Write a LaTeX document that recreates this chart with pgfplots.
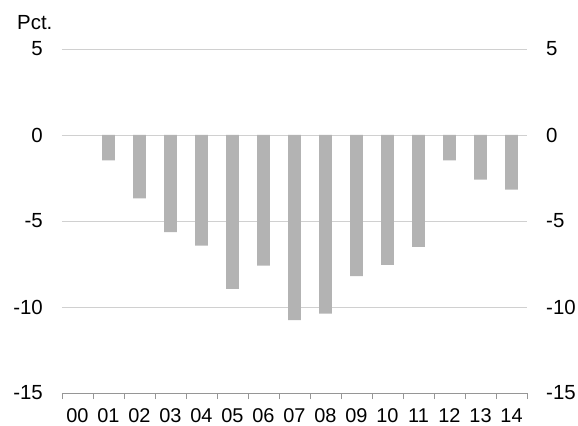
\documentclass[border=0pt]{standalone}
\usepackage{pgfplots}
\pgfplotsset{compat=1.18}
\usepackage{fontspec}
\setmainfont{Liberation Sans}
\definecolor{barc}{RGB}{179,179,179}
\definecolor{gridc}{RGB}{208,208,208}
\definecolor{axc}{RGB}{150,150,150}
\begin{document}
\begin{tikzpicture}
\path[use as bounding box] (-62bp,-33bp) rectangle (516bp,393bp);
\pgfplotsset{common/.style={
  scale only axis, width=465bp, height=344bp, at={(0,0)}, anchor=south west,
  xmin=-0.5, xmax=14.5, ymin=-15, ymax=5, ytick={-15,-10,...,5},
  /pgf/number format/assume math mode=true,
  tick label style={font=\fontsize{20.5}{22}\selectfont},
}}
\begin{axis}[common,
  axis x line*=bottom,
  x axis line style={draw=axc, line width=0.8bp, -},
  y axis line style={draw=none},
  ytick style={draw=none},
  ymajorgrids, grid style={gridc, line width=0.8bp},
  yticklabel style={anchor=east, inner sep=0pt, xshift=-19bp},
  xtick={0,...,14},
  xticklabels={00\hspace{5bp},01\hspace{9bp},02,03,04,05,06,07,08,09,10,11,12,13,14},
  major x tick style={draw=none},
  minor xtick={-0.5,0.5,...,14.5},
  xtick align=outside, major tick length=0pt, minor tick length=6bp,
  minor x tick style={draw=axc, line width=0.8bp},
  xticklabel style={anchor=north, inner sep=0pt, yshift=-15.5bp, font=\fontsize{20}{22}\selectfont},
]
\addplot[ybar, bar width=12.7bp, fill=barc, draw=none] coordinates {
(1,-1.47) (2,-3.68) (3,-5.65) (4,-6.43) (5,-8.94) (6,-7.59) (7,-10.76)
(8,-10.38) (9,-8.21) (10,-7.55) (11,-6.5) (12,-1.47) (13,-2.6) (14,-3.17)
};
\end{axis}
\begin{axis}[common,
  axis x line=none, axis y line*=right,
  y axis line style={draw=none},
  ytick style={draw=none},
  yticklabel style={anchor=west, inner sep=0pt, xshift=19bp},
]
\addplot[draw=none] coordinates {(0,0)};
\end{axis}
\node[anchor=west, inner sep=0pt, font=\fontsize{20.5}{22}\selectfont] at (-45bp,370bp) {Pct.};
\end{tikzpicture}
\end{document}
